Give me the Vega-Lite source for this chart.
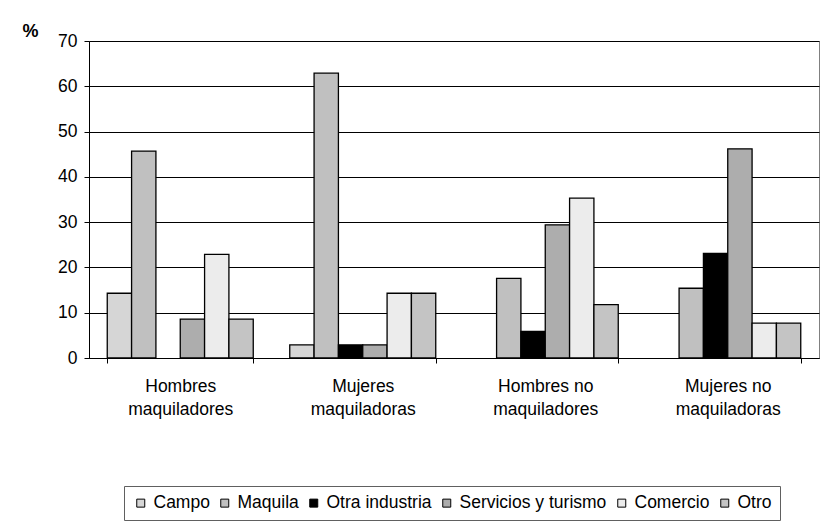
{
  "$schema": "https://vega.github.io/schema/vega-lite/v6.json",
  "width": 730,
  "height": 317,
  "autosize": {"type": "none"},
  "padding": {"left": 89, "top": 41, "right": 3, "bottom": 167},
  "background": "white",
  "config": {
    "font": "Liberation Sans",
    "view": {"stroke": "#808080", "strokeWidth": 1}
  },
  "data": {
    "values": [
      {"grupo": "Hombres|maquiladores", "sector": "Campo", "pct": 14.3},
      {"grupo": "Hombres|maquiladores", "sector": "Maquila", "pct": 45.7},
      {"grupo": "Hombres|maquiladores", "sector": "Servicios y turismo", "pct": 8.6},
      {"grupo": "Hombres|maquiladores", "sector": "Comercio", "pct": 22.9},
      {"grupo": "Hombres|maquiladores", "sector": "Otro", "pct": 8.6},
      {"grupo": "Mujeres|maquiladoras", "sector": "Campo", "pct": 2.9},
      {"grupo": "Mujeres|maquiladoras", "sector": "Maquila", "pct": 62.9},
      {"grupo": "Mujeres|maquiladoras", "sector": "Otra industria", "pct": 2.9},
      {"grupo": "Mujeres|maquiladoras", "sector": "Servicios y turismo", "pct": 2.9},
      {"grupo": "Mujeres|maquiladoras", "sector": "Comercio", "pct": 14.3},
      {"grupo": "Mujeres|maquiladoras", "sector": "Otro", "pct": 14.3},
      {"grupo": "Hombres no|maquiladores", "sector": "Maquila", "pct": 17.6},
      {"grupo": "Hombres no|maquiladores", "sector": "Otra industria", "pct": 5.9},
      {"grupo": "Hombres no|maquiladores", "sector": "Servicios y turismo", "pct": 29.4},
      {"grupo": "Hombres no|maquiladores", "sector": "Comercio", "pct": 35.3},
      {"grupo": "Hombres no|maquiladores", "sector": "Otro", "pct": 11.8},
      {"grupo": "Mujeres no|maquiladoras", "sector": "Maquila", "pct": 15.4},
      {"grupo": "Mujeres no|maquiladoras", "sector": "Otra industria", "pct": 23.1},
      {"grupo": "Mujeres no|maquiladoras", "sector": "Servicios y turismo", "pct": 46.2},
      {"grupo": "Mujeres no|maquiladoras", "sector": "Comercio", "pct": 7.7},
      {"grupo": "Mujeres no|maquiladoras", "sector": "Otro", "pct": 7.7}
    ]
  },
  "mark": {"type": "bar", "stroke": "black", "strokeWidth": 1.3},
  "encoding": {
    "x": {
      "field": "grupo",
      "type": "nominal",
      "sort": ["Hombres|maquiladores", "Mujeres|maquiladoras", "Hombres no|maquiladores", "Mujeres no|maquiladoras"],
      "scale": {"paddingInner": 0.2, "paddingOuter": 0.1},
      "axis": {
        "title": null,
        "labelAngle": 0,
        "labelExpr": "split(datum.label, '|')",
        "labelLineHeight": 23,
        "labelFontSize": 17.5,
        "labelColor": "black",
        "labelPadding": 14,
        "tickBand": "extent",
        "tickSize": 5,
        "tickColor": "black",
        "domainColor": "black",
        "grid": false
      }
    },
    "xOffset": {
      "field": "sector",
      "type": "nominal",
      "sort": ["Campo", "Maquila", "Otra industria", "Servicios y turismo", "Comercio", "Otro"],
      "scale": {"domain": ["Campo", "Maquila", "Otra industria", "Servicios y turismo", "Comercio", "Otro"], "paddingInner": 0, "paddingOuter": 0}
    },
    "y": {
      "field": "pct",
      "type": "quantitative",
      "scale": {"domain": [0, 70], "nice": false},
      "axis": {
        "title": "%",
        "titleAngle": 0,
        "titleX": -59,
        "titleY": -10,
        "titleAlign": "center",
        "titleBaseline": "middle",
        "titleFontSize": 18,
        "titleFontWeight": "bold",
        "titleColor": "black",
        "values": [0, 10, 20, 30, 40, 50, 60, 70],
        "labelFontSize": 17.5,
        "labelColor": "black",
        "labelPadding": 7,
        "tickSize": 5,
        "tickColor": "black",
        "domainColor": "black",
        "gridColor": "#000000",
        "gridWidth": 1
      }
    },
    "color": {
      "field": "sector",
      "type": "nominal",
      "scale": {
        "domain": ["Campo", "Maquila", "Otra industria", "Servicios y turismo", "Comercio", "Otro"],
        "range": ["#d6d6d6", "#c0c0c0", "#000000", "#adadad", "#ececec", "#c4c4c4"]
      },
      "legend": {
        "title": null,
        "orient": "none",
        "direction": "horizontal",
        "legendX": 35,
        "legendY": 445,
        "columns": 6,
        "labelFontSize": 17.5,
        "labelColor": "black",
        "symbolType": "square",
        "symbolSize": 64,
        "symbolStrokeColor": "black",
        "symbolStrokeWidth": 1,
        "symbolOpacity": 1,
        "labelOffset": 4,
        "columnPadding": 6,
        "strokeColor": "#606060",
        "padding": 8
      }
    }
  }
}
